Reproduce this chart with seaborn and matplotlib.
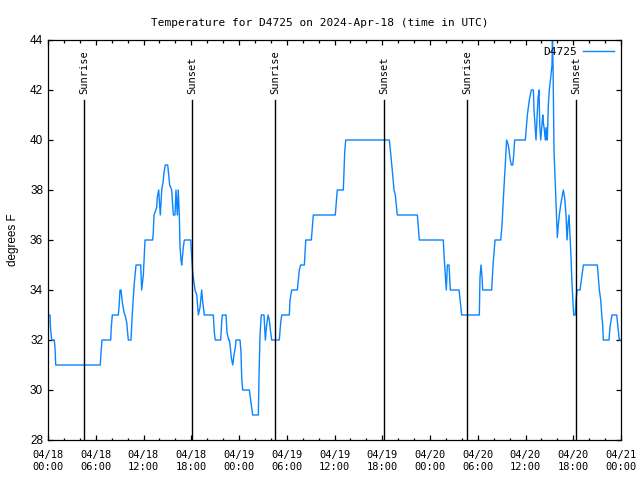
import pandas as pd
import numpy as np
import matplotlib
matplotlib.use("Agg")
import matplotlib.pyplot as plt
import matplotlib.dates as mdates
import seaborn as sns

# hours since 2024-04-18 00:00 UTC and temperature readings (deg F)
hours = [0.04, 0.25, 0.31, 0.46, 0.79, 0.88, 0.97, 6.57, 6.66, 6.79,
         7.88, 7.95, 8.08, 8.83, 8.92, 9.05, 9.17, 9.34, 9.55, 9.68,
         9.89, 10.09, 10.43, 10.55, 10.72, 10.85, 11.06, 11.65, 11.77, 11.98,
         12.19, 13.15, 13.23, 13.32, 13.66, 13.73, 13.91, 14.11, 14.29, 14.45,
         14.58, 14.74, 15.04, 15.17, 15.29, 15.54, 15.75, 15.96, 16.08, 16.25,
         16.37, 16.50, 16.59, 16.71, 16.80, 17.00, 17.13, 17.93, 18.06, 18.18,
         18.34, 18.47, 18.69, 18.89, 19.10, 19.31, 19.45, 19.64, 20.77, 20.90,
         21.02, 21.70, 21.82, 21.90, 22.37, 22.49, 22.71, 22.79, 22.91, 23.03,
         23.21, 23.37, 23.54, 23.62, 24.13, 24.25, 24.34, 24.46, 25.30, 25.38,
         25.51, 25.63, 25.72, 26.43, 26.51, 26.64, 26.80, 27.14, 27.31, 27.44,
         27.65, 27.81, 27.94, 28.11, 29.06, 29.24, 29.37, 30.32, 30.41, 30.62,
         31.33, 31.58, 31.75, 32.21, 32.39, 33.09, 33.34, 36.10, 36.35, 37.11,
         37.28, 37.41, 42.89, 43.14, 43.39, 43.48, 43.64, 43.89, 46.41, 46.53,
         46.66, 49.67, 49.80, 50.05, 50.18, 50.39, 50.55, 51.65, 51.81, 51.98,
         54.20, 54.28, 54.41, 54.54, 54.62, 55.75, 55.92, 56.17, 56.89, 57.05,
         57.21, 57.46, 57.63, 57.84, 58.09, 58.22, 58.39, 58.52, 58.64, 59.98,
         60.23, 60.48, 60.73, 60.99, 61.07, 61.32, 61.45, 61.58, 61.70, 61.79,
         61.91, 62.04, 62.17, 62.24, 62.37, 62.49, 62.58, 62.70, 62.74, 62.87,
         62.99, 63.17, 63.33, 63.39, 63.46, 63.58, 63.71, 63.83, 63.92, 64.00,
         64.12, 64.25, 64.42, 64.59, 64.75, 64.92, 65.09, 65.22, 65.34, 65.47,
         65.60, 65.72, 65.81, 65.93, 66.06, 66.26, 66.35, 66.47, 66.85, 66.98,
         67.10, 67.27, 69.03, 69.15, 69.28, 69.45, 69.58, 69.70, 69.78, 70.49,
         70.62, 70.75, 70.87, 71.46, 71.59, 71.79, 72.00]
temps = [33, 33, 32.5, 32, 32, 31.7, 31, 31, 31.5, 32,
         32, 32.5, 33, 33, 33.3, 34, 34, 33.5, 33.1, 33,
         32.7, 32, 32, 32.8, 33.7, 34.3, 35, 35, 34, 34.6,
         36, 36, 36.3, 37, 37.3, 37.7, 38, 37, 38, 38.3,
         38.7, 39, 39, 38.6, 38.2, 38, 37, 37, 38, 37,
         38, 37, 35.7, 35.2, 35, 35.7, 36, 36, 35.3, 34.7,
         34.3, 34, 33.8, 33, 33.3, 34, 33.5, 33, 33, 32.3,
         32, 32, 32.7, 33, 33, 32.3, 32, 32, 31.7, 31.3,
         31, 31.4, 31.7, 32, 32, 31.5, 30.5, 30, 30, 29.8,
         29.5, 29.2, 29, 29, 30.5, 32.2, 33, 33, 32, 32.5,
         33, 32.8, 32.4, 32, 32, 32.7, 33, 33, 33.6, 34,
         34, 34.8, 35, 35, 36, 36, 37, 37, 38, 38,
         39.5, 40, 40, 39.2, 38.3, 38, 37.8, 37, 37, 36.5,
         36, 36, 35.2, 34, 35, 35, 34, 34, 33.5, 33,
         33, 34.5, 35, 34.5, 34, 34, 35, 36, 36, 36.6,
         37.6, 39, 40, 39.8, 39.2, 39, 39, 39.4, 40, 40,
         41, 41.6, 42, 42, 41.2, 40, 40.9, 41.7, 42, 40.6,
         40, 40.5, 41, 40.7, 40.4, 40, 40.5, 40, 40, 41.4,
         42, 42.5, 43, 44, 43, 39.6, 38.5, 37.5, 36.7, 36.1,
         36.6, 37, 37.4, 37.7, 38, 37.7, 37, 36, 36.6, 37,
         36.1, 35.3, 34.5, 33.7, 33, 33, 33.6, 34, 34, 34.3,
         34.6, 35, 35, 34.5, 34, 33.6, 33, 32.6, 32, 32,
         32.5, 32.8, 33, 33, 32.6, 32, 32]

event_hours = [4.55, 18.13, 28.57, 42.24, 52.65, 66.37]
event_labels = ["Sunrise", "Sunset", "Sunrise", "Sunset", "Sunrise", "Sunset"]

start = pd.Timestamp("2024-04-18 00:00")
df = pd.DataFrame({"time": start + pd.to_timedelta(hours, unit="h"), "temp": temps})

mono = "DejaVu Sans Mono"
fig = plt.figure(figsize=(6.4, 4.8), dpi=100)
ax = fig.add_axes([48 / 640, 40 / 480, 573 / 640, 400 / 480])

sns.lineplot(data=df, x="time", y="temp", ax=ax, color="#0a84ff", lw=1.0,
             estimator=None, sort=False, label="D4725")

for h, lab in zip(event_hours, event_labels):
    t = start + pd.Timedelta(hours=h)
    ax.axvline(t, ymin=0, ymax=(41.6 - 28) / 16, color="black", lw=1.0)
    ax.text(t, 41.85, lab, rotation=90, ha="center", va="bottom",
            family=mono, fontsize=7.5)

ax.set_xlim(start, start + pd.Timedelta(hours=72))
ax.set_ylim(28, 44)
ax.set_yticks(np.arange(28, 45, 2))
ax.xaxis.set_major_locator(mdates.HourLocator(byhour=[0, 6, 12, 18]))
ax.xaxis.set_minor_locator(mdates.HourLocator(byhour=range(0, 24, 2)))
ax.xaxis.set_major_formatter(mdates.DateFormatter("%m/%d\n%H:%M"))
ax.tick_params(which="both", direction="in", top=True, right=True, width=0.9)
ax.tick_params(which="major", length=3.5)
ax.tick_params(which="minor", length=1.8)
ax.tick_params(axis="x", which="major", pad=7.5)
for lbl in ax.get_xticklabels():
    lbl.set_family(mono)
    lbl.set_fontsize(7.5)
for lbl in ax.get_yticklabels():
    lbl.set_family("Liberation Sans")
    lbl.set_fontsize(8.5)
for s in ax.spines.values():
    s.set_linewidth(0.9)

ax.set_xlabel("")
ax.set_ylabel("degrees F", family="Liberation Sans", fontsize=8.5, labelpad=8)
fig.suptitle("Temperature for D4725 on 2024-Apr-18 (time in UTC)",
             family=mono, fontsize=8, y=0.962)

ax.legend(loc="upper right", frameon=False, markerfirst=False,
          prop={"family": mono, "size": 8}, handlelength=2.8,
          borderaxespad=0.2, handletextpad=0.6)

fig.savefig("out.png", dpi=100)
